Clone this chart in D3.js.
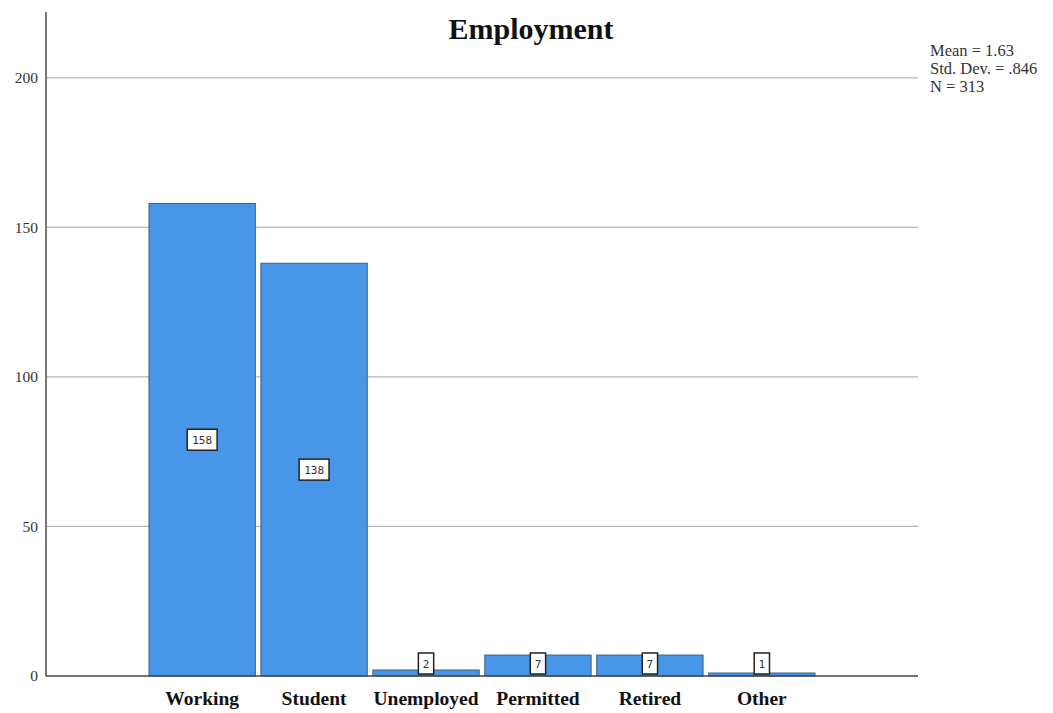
<!DOCTYPE html>
<html><head><meta charset="utf-8">
<script src="https://cdn.jsdelivr.net/npm/d3@7"></script>
<style>body{margin:0;background:#fff}</style>
</head><body>
<script>
const categories = ["Working","Student","Unemployed","Permitted","Retired","Other"];
const counts = [158,138,2,7,7,1];
const yTicks = [0,50,100,150,200];
const statsLines = ["Mean = 1.63","Std. Dev. = .846","N = 313"];
const title = "Employment";

const W=1053,H=713;
const svg=d3.select("body").append("svg").attr("width",W).attr("height",H);
const x0=46,x1=918,yTop=12,yBase=676;
const y=d3.scaleLinear().domain([0,222]).range([yBase,yTop]);
const x=d3.scaleBand().domain(categories).range([x0,x1]).paddingInner(0.05).paddingOuter(0.92);

// gridlines
svg.append("g").selectAll("line").data(yTicks.filter(d=>d>0)).join("line")
 .attr("x1",x0).attr("x2",x1).attr("y1",d=>y(d)).attr("y2",d=>y(d))
 .attr("stroke","#b4b4b4").attr("stroke-width",1.3);

// y axis
const ya=svg.append("g").attr("transform",`translate(${x0},0)`)
 .call(d3.axisLeft(y).tickValues(yTicks).tickSize(0).tickPadding(8));
ya.select(".domain").remove();
ya.selectAll("text").attr("font-family","Liberation Serif").attr("font-size",15.5).attr("fill","#333");
svg.append("line").attr("x1",x0).attr("x2",x0).attr("y1",yTop).attr("y2",yBase)
 .attr("stroke","#777").attr("stroke-width",2);

// bars
svg.append("g").selectAll("rect").data(categories).join("rect")
 .attr("x",d=>x(d)).attr("width",x.bandwidth())
 .attr("y",(d,i)=>y(counts[i])).attr("height",(d,i)=>yBase-y(counts[i]))
 .attr("fill","#4796e7").attr("stroke","#3d5f86").attr("stroke-width",1);

// baseline
svg.append("line").attr("x1",x0).attr("x2",x1).attr("y1",yBase).attr("y2",yBase)
 .attr("stroke","#444").attr("stroke-width",1.6);

// x axis labels
const xa=svg.append("g").attr("transform",`translate(0,${yBase})`)
 .call(d3.axisBottom(x).tickSize(0).tickPadding(0));
xa.select(".domain").remove();
xa.selectAll("text").attr("dy",null).attr("y",29).attr("font-family","Liberation Serif").attr("font-weight","bold")
 .attr("font-size",19.5).attr("fill","#111");

// value labels
const lg=svg.append("g");
categories.forEach((c,i)=>{
  const v=counts[i];
  const s=String(v);
  const bw=8+s.length*7.3, bh=21;
  const cx=x(c)+x.bandwidth()/2;
  let cy=y(v/2);
  cy=Math.min(cy,yBase-bh/2-2);
  lg.append("rect").attr("x",cx-bw/2).attr("y",cy-bh/2).attr("width",bw).attr("height",bh)
   .attr("fill","#fff").attr("stroke","#222").attr("stroke-width",1.5);
  lg.append("text").attr("x",cx).attr("y",cy+4).attr("text-anchor","middle")
   .attr("font-family","DejaVu Sans Mono").attr("font-size",11).attr("fill","#333").text(s);
});

// title
svg.append("text").attr("x",531).attr("y",39).attr("text-anchor","middle")
 .attr("font-family","Liberation Serif").attr("font-weight","bold").attr("font-size",30)
 .attr("fill","#111").text(title);

// stats
svg.append("g").selectAll("text").data(statsLines).join("text")
 .attr("x",930).attr("y",(d,i)=>56+i*18)
 .attr("font-family","Liberation Serif").attr("font-size",16.5).attr("fill","#333").text(d=>d);
</script>
</body></html>
